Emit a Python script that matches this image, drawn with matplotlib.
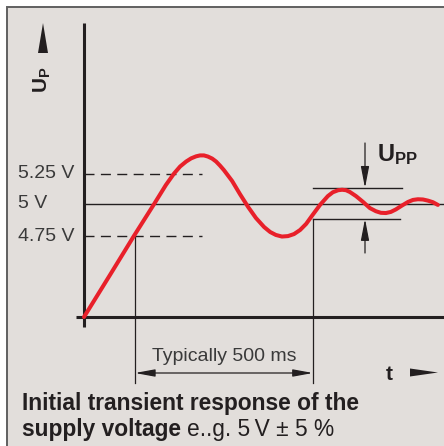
import matplotlib
matplotlib.use("Agg")
import matplotlib.pyplot as plt
from matplotlib.patches import Rectangle, Polygon, FancyArrowPatch
from matplotlib.transforms import Affine2D

plt.rcParams['font.family'] = ['Liberation Sans', 'DejaVu Sans']
plt.rcParams['mathtext.fontset'] = 'custom'
plt.rcParams['mathtext.rm'] = 'Liberation Sans'
plt.rcParams['mathtext.bf'] = 'Liberation Sans:bold'
plt.rcParams['lines.scale_dashes'] = False

# ------------- data -----------------------------------
# time in ms, voltage in schematic units (the band around 5 V is drawn exaggerated)
t_ms = [0, 73, 140, 197, 230, 253, 270, 287, 301, 315, 326, 337, 348, 360, 371,
        382, 393, 416, 438, 461, 483, 506, 523, 539, 556, 573, 590, 607, 624,
        640, 663, 685, 699, 714, 725, 736, 747, 764, 784, 803, 820, 834, 848,
        862, 876, 893, 910, 924, 938, 952, 966, 980, 994]
u_v = [0.0, 1.86, 3.58, 5.00, 5.84, 6.35, 6.66, 6.88, 7.02, 7.11, 7.15, 7.15,
       7.10, 7.01, 6.88, 6.70, 6.50, 6.02, 5.44, 4.87, 4.38, 3.98, 3.76, 3.63,
       3.56, 3.58, 3.67, 3.85, 4.12, 4.47, 4.96, 5.35, 5.52, 5.61, 5.63, 5.61,
       5.53, 5.35, 5.09, 4.82, 4.68, 4.61, 4.60, 4.65, 4.76, 4.93, 5.09, 5.18,
       5.21, 5.20, 5.15, 5.08, 4.96]

level_pos = [6.33, 5.0, 3.58]
level_labels = ['5.25 V', '5 V', '4.75 V']
upp_hi = 5.71
upp_lo = 4.34
t_start = 143   # curve first enters the band
t_end = 643     # "typically 500 ms" later

# ------------- layout ---------------------------------
W, H = 444, 446
PX_PER_MS = 0.356
PX_PER_V = 22.6
X0, Y0 = 84, 317   # pixel position of the origin


def px(x, y):
    """pixel position -> data coordinates"""
    return (x - X0) / PX_PER_MS, (Y0 - y) / PX_PER_V


fig = plt.figure(figsize=(W / 100, H / 100), dpi=100, facecolor='white')
pix = Affine2D().scale(1 / W, -1 / H).translate(0, 1) + fig.transFigure

# frame (behind the axes)
fig.patches.append(Rectangle((7, 7), 460, 460, transform=pix, facecolor='#e2dedb',
                             edgecolor='#606060', lw=1.4, zorder=-10))

ax = fig.add_axes([0, 0, 1, 1], zorder=1)
ax.set_xlim(px(0, 0)[0], px(W, 0)[0])
ax.set_ylim(px(0, H)[1], px(0, 0)[1])
ax.axis('off')

ink = '#231f20'
grey = '#3a3a3a'

# axes lines
ax.plot([0, 0], [px(0, 327)[1], px(0, 23)[1]], color=ink, lw=2.2, solid_capstyle='butt')
ax.plot([px(76, 0)[0], px(W, 0)[0]], [0, 0], color=ink, lw=2.2, solid_capstyle='butt')

# nominal line and tolerance lines
ax.plot([0, px(W, 0)[0]], [level_pos[1]] * 2, color=ink, lw=1.0)
for lv in (level_pos[0], level_pos[2]):
    ax.plot([0, 331], [lv, lv], color=ink, lw=1.0, dashes=(7.2, 4.6))

# tick labels
for lv, lab in zip(level_pos, level_labels):
    ax.text(px(18, 0)[0], lv, lab, fontsize=14, color=grey, va='center', ha='left')

# settle markers
yb = px(0, 383)[1]
ax.plot([t_start, t_start], [level_pos[2], yb], color=ink, lw=0.9)
ax.plot([t_end, t_end], [upp_lo, yb], color=ink, lw=0.9)
ya = px(0, 373)[1]
ax.add_patch(FancyArrowPatch((t_start, ya), (t_end, ya), arrowstyle='<|-|>,head_length=1.2,head_width=0.22',
                             mutation_scale=10, color=ink, lw=0.9, shrinkA=0, shrinkB=0))
ax.text((t_start + t_end) / 2, px(0, 361)[1], 'Typically 500 ms', fontsize=14, color=grey,
        ha='center', va='baseline')

# Upp band
ax.plot([t_end, px(402, 0)[0]], [upp_hi, upp_hi], color=ink, lw=1.0)
ax.plot([t_end, px(400, 0)[0]], [upp_lo, upp_lo], color=ink, lw=1.0)
xa = px(365, 0)[0]
ax.add_patch(FancyArrowPatch((xa, px(0, 143)[1]), (xa, upp_hi), arrowstyle='-|>,head_length=1.3,head_width=0.25',
                             mutation_scale=10, color=ink, lw=0.9, shrinkA=0, shrinkB=0))
ax.add_patch(FancyArrowPatch((xa, px(0, 253)[1]), (xa, upp_lo), arrowstyle='-|>,head_length=1.3,head_width=0.25',
                             mutation_scale=10, color=ink, lw=0.9, shrinkA=0, shrinkB=0))
fig.text(377, 161, r'$\mathbf{U_{PP}}$', transform=pix, fontsize=17, color=ink, ha='left', va='baseline')

# the transient
ax.plot(t_ms, u_v, color='#e8202a', lw=2.9, solid_capstyle='round', solid_joinstyle='round', zorder=5)

# axis names with arrow heads
fig.text(48, 93, r'$\mathbf{U_P}$', transform=pix, fontsize=15, color=ink, rotation=90,
         rotation_mode='anchor', ha='left', va='baseline')
fig.patches.append(Polygon([(38, 53), (48, 53), (43, 23)], closed=True, transform=pix,
                           facecolor=ink, edgecolor='none'))
fig.text(386, 380, 't', transform=pix, fontsize=15, color=ink, fontweight='bold', ha='left', va='baseline')
fig.patches.append(Polygon([(410, 368.5), (410, 376.5), (438, 372.5)], closed=True, transform=pix,
                           facecolor=ink, edgecolor='none'))

# caption
fig.text(22, 410, 'Initial transient response of the', transform=pix, fontsize=16.4,
         fontweight='bold', color=ink, va='baseline')
fig.text(22, 436, 'supply voltage', transform=pix, fontsize=16.4,
         fontweight='bold', color=ink, va='baseline')
fig.text(187, 436, 'e..g. 5\u2009V \u00b1 5 %', transform=pix, fontsize=16.4,
         color=ink, va='baseline')

fig.savefig('out.png', dpi=100, facecolor=fig.get_facecolor())
